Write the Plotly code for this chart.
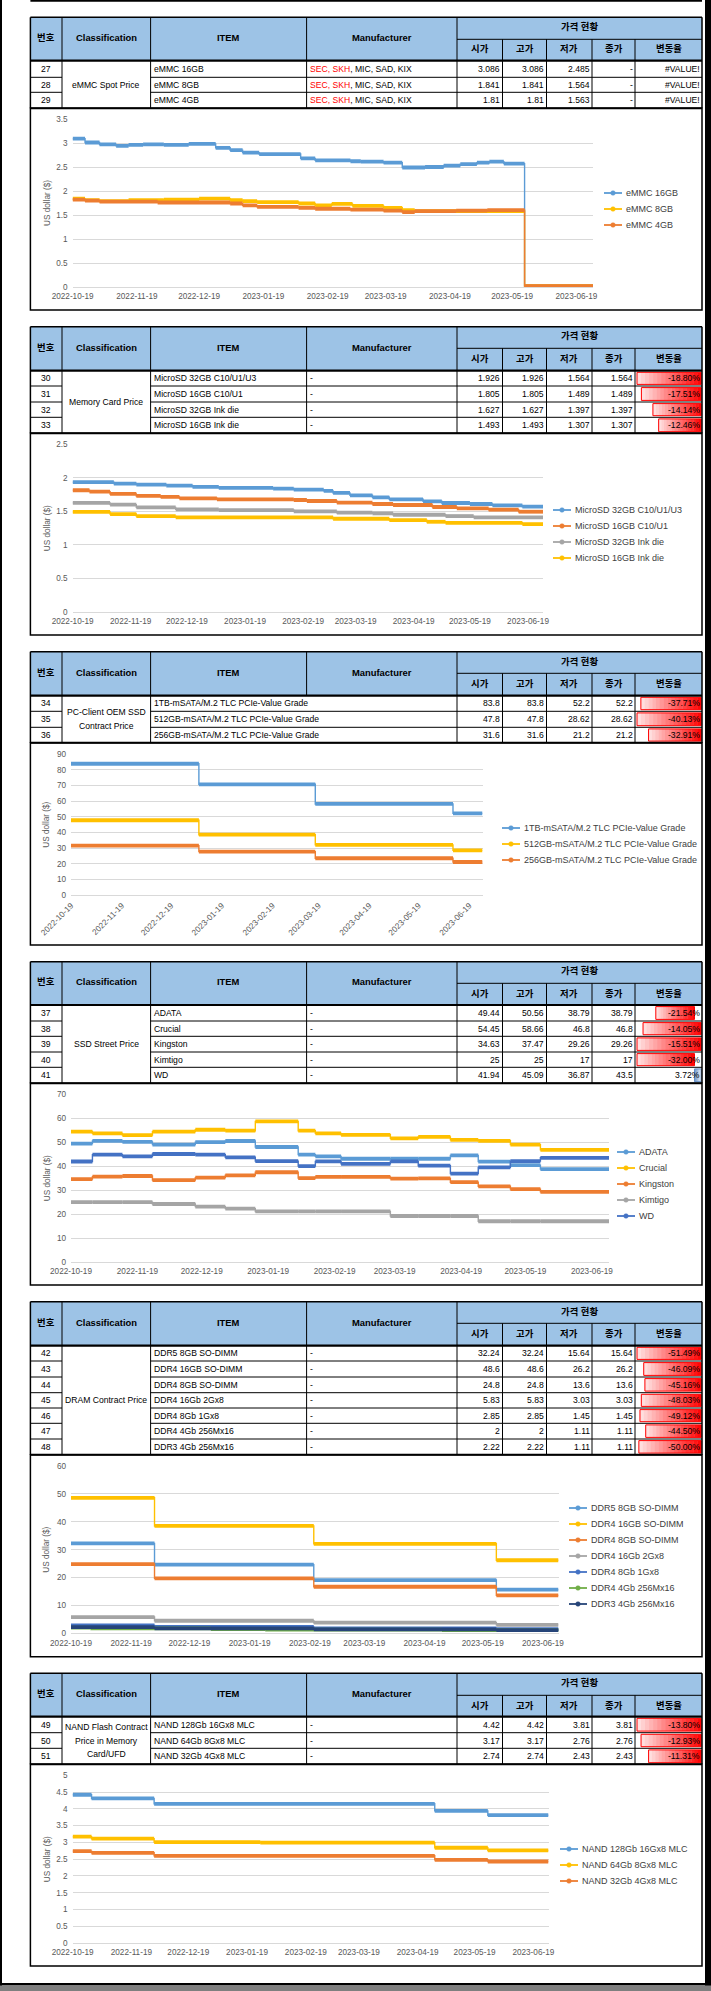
import pandas as pd
import plotly.graph_objects as go

W, H = 711, 1991
START = pd.Timestamp("2022-10-19")
END = pd.Timestamp("2023-06-27")
END_DAY = (END - START).days
FONT = "Liberation Sans, Arial, Noto Sans CJK KR, sans-serif"

BLUE, ORANGE, GRAY, YELLOW = "#5B9BD5", "#ED7D31", "#A5A5A5", "#FFC000"
DBLUE, GREEN, NAVY = "#4472C4", "#70AD47", "#264478"

tick_labels = ["2022-10-19", "2022-11-19", "2022-12-19", "2023-01-19", "2023-02-19",
               "2023-03-19", "2023-04-19", "2023-05-19", "2023-06-19"]

header_left = ["번호", "Classification", "ITEM", "Manufacturer"]
header_group = "가격 현황"
header_sub = ["시가", "고가", "저가", "종가", "변동율"]

# ---------------- Section 1 : eMMC Spot Price ----------------
s1_no = ["27", "28", "29"]
s1_cls = "eMMC Spot Price"
s1_item = ["eMMC 16GB", "eMMC 8GB", "eMMC 4GB"]
s1_maker = ["<span style='color:#FF0000'>SEC, SKH</span>, MIC, SAD, KIX"] * 3
s1_open = ["3.086", "1.841", "1.81"]
s1_high = ["3.086", "1.841", "1.81"]
s1_low = ["2.485", "1.564", "1.563"]
s1_close = ["-", "-", "-"]
s1_change = ["#VALUE!", "#VALUE!", "#VALUE!"]
s1_change_val = [None, None, None]

emmc16_days = [0, 6, 13, 21, 27, 34, 44, 56, 69, 76, 82, 90, 110, 117, 134, 139, 150, 159, 170, 179, 187, 195, 201, 208, 218]
emmc16_vals = [3.09, 3.01, 2.97, 2.94, 2.96, 2.97, 2.96, 2.98, 2.90, 2.85, 2.80, 2.77, 2.68, 2.64, 2.62, 2.61, 2.59, 2.49, 2.50, 2.53, 2.56, 2.59, 2.61, 2.57, 0.02]
emmc8_days = [0, 6, 13, 27, 44, 61, 76, 82, 89, 109, 117, 125, 135, 150, 159, 165, 218]
emmc8_vals = [1.84, 1.81, 1.79, 1.81, 1.82, 1.84, 1.81, 1.79, 1.77, 1.74, 1.70, 1.73, 1.69, 1.65, 1.60, 1.58, 0.02]
emmc4_days = [0, 6, 13, 41, 76, 82, 89, 109, 117, 134, 150, 159, 165, 185, 200, 218]
emmc4_vals = [1.82, 1.80, 1.78, 1.76, 1.74, 1.70, 1.67, 1.65, 1.63, 1.61, 1.59, 1.56, 1.58, 1.59, 1.60, 0.02]

# ---------------- Section 2 : Memory Card Price ----------------
s2_no = ["30", "31", "32", "33"]
s2_cls = "Memory Card Price"
s2_item = ["MicroSD 32GB C10/U1/U3", "MicroSD 16GB C10/U1", "MicroSD 32GB Ink die", "MicroSD 16GB Ink die"]
s2_maker = ["-"] * 4
s2_open = ["1.926", "1.805", "1.627", "1.493"]
s2_high = ["1.926", "1.805", "1.627", "1.493"]
s2_low = ["1.564", "1.489", "1.397", "1.307"]
s2_close = ["1.564", "1.489", "1.397", "1.307"]
s2_change = ["-18.80%", "-17.51%", "-14.14%", "-12.46%"]
s2_change_val = [-18.80, -17.51, -14.14, -12.46]

sd32c_days = [0, 22, 34, 50, 64, 78, 107, 118, 134, 139, 148, 160, 169, 187, 197, 212, 224, 240]
sd32c_vals = [1.935, 1.915, 1.90, 1.885, 1.865, 1.85, 1.84, 1.825, 1.805, 1.775, 1.74, 1.71, 1.68, 1.65, 1.625, 1.61, 1.59, 1.57]
sd16c_days = [0, 9, 20, 34, 47, 57, 77, 118, 125, 141, 160, 171, 192, 205, 222, 238]
sd16c_vals = [1.815, 1.795, 1.76, 1.73, 1.715, 1.695, 1.68, 1.67, 1.655, 1.63, 1.61, 1.595, 1.565, 1.545, 1.525, 1.495]
sd32i_days = [0, 20, 34, 55, 78, 118, 141, 160, 171, 199, 214]
sd32i_vals = [1.627, 1.60, 1.56, 1.53, 1.52, 1.50, 1.48, 1.47, 1.45, 1.43, 1.41]
sd16i_days = [0, 20, 34, 55, 139, 169, 189, 199, 240]
sd16i_vals = [1.493, 1.46, 1.43, 1.41, 1.39, 1.37, 1.345, 1.33, 1.31]

# ---------------- Section 3 : PC-Client OEM SSD ----------------
s3_no = ["34", "35", "36"]
s3_cls = "PC-Client OEM SSD<br>Contract Price"
s3_item = ["1TB-mSATA/M.2 TLC PCIe-Value Grade", "512GB-mSATA/M.2 TLC PCIe-Value Grade", "256GB-mSATA/M.2 TLC PCIe-Value Grade"]
s3_maker = ["", "", ""]
s3_open = ["83.8", "47.8", "31.6"]
s3_high = ["83.8", "47.8", "31.6"]
s3_low = ["52.2", "28.62", "21.2"]
s3_close = ["52.2", "28.62", "21.2"]
s3_change = ["-37.71%", "-40.13%", "-32.91%"]
s3_change_val = [-37.71, -40.13, -32.91]

ssd_days = [0, 78, 149, 233]
ssd1t_vals = [83.8, 70.7, 58.2, 52.2]
ssd512_vals = [47.8, 38.6, 32.1, 28.62]
ssd256_vals = [31.6, 27.8, 23.6, 21.2]

# ---------------- Section 4 : SSD Street Price ----------------
s4_no = ["37", "38", "39", "40", "41"]
s4_cls = "SSD Street Price"
s4_item = ["ADATA", "Crucial", "Kingston", "Kimtigo", "WD"]
s4_maker = ["-"] * 5
s4_open = ["49.44", "54.45", "34.63", "25", "41.94"]
s4_high = ["50.56", "58.66", "37.47", "25", "45.09"]
s4_low = ["38.79", "46.8", "29.26", "17", "36.87"]
s4_close = ["38.79", "46.8", "29.26", "17", "43.5"]
s4_change = ["-21.54%", "-14.05%", "-15.51%", "-32.00%", "3.72%"]
s4_change_val = [-21.54, -14.05, -15.51, -32.00, 3.72]
s4_bar_group = [0, 1, 1, 0, 0]

street_days = [0, 10, 24, 38, 58, 72, 86, 106, 114, 126, 149, 162, 177, 190, 205, 219]
adata_vals = [49.44, 50.56, 50.1, 49.0, 50.0, 50.5, 48.0, 44.8, 44.1, 43.1, 43.1, 43.1, 44.5, 41.9, 40.4, 38.79]
crucial_vals = [54.45, 53.7, 53.0, 54.4, 55.2, 54.8, 58.66, 54.8, 53.7, 53.1, 51.6, 52.2, 51.0, 50.6, 49.0, 46.8]
kingston_vals = [34.63, 35.6, 35.9, 34.2, 35.2, 36.2, 37.47, 35.0, 35.5, 35.5, 34.8, 34.9, 33.3, 31.6, 30.4, 29.26]
kimtigo_vals = [25, 25, 25, 24.2, 23.1, 22.3, 21.1, 21.1, 21.1, 21.1, 19.2, 19.2, 19.2, 17, 17, 17]
wd_vals = [41.94, 44.8, 44.1, 45.09, 44.8, 43.7, 42.1, 40.0, 42.0, 41.0, 42.0, 40.2, 36.87, 39.5, 42.1, 43.5]

# ---------------- Section 5 : DRAM Contract Price ----------------
s5_no = ["42", "43", "44", "45", "46", "47", "48"]
s5_cls = "DRAM Contract Price"
s5_item = ["DDR5 8GB SO-DIMM", "DDR4 16GB SO-DIMM", "DDR4 8GB SO-DIMM", "DDR4 16Gb 2Gx8",
           "DDR4 8Gb 1Gx8", "DDR4 4Gb 256Mx16", "DDR3 4Gb 256Mx16"]
s5_maker = ["-"] * 7
s5_open = ["32.24", "48.6", "24.8", "5.83", "2.85", "2", "2.22"]
s5_high = ["32.24", "48.6", "24.8", "5.83", "2.85", "2", "2.22"]
s5_low = ["15.64", "26.2", "13.6", "3.03", "1.45", "1.11", "1.11"]
s5_close = ["15.64", "26.2", "13.6", "3.03", "1.45", "1.11", "1.11"]
s5_change = ["-51.49%", "-46.09%", "-45.16%", "-48.03%", "-49.12%", "-44.50%", "-50.00%"]
s5_change_val = [-51.49, -46.09, -45.16, -48.03, -49.12, -44.50, -50.00]

dram_days = [0, 43, 125, 219]
ddr5_8_vals = [32.24, 24.6, 19.1, 15.64]
ddr4_16_vals = [48.6, 38.5, 32.1, 26.2]
ddr4_8_vals = [24.8, 19.7, 16.7, 13.6]
ddr4_2gx8_vals = [5.83, 4.5, 3.8, 3.03]
ddr4_1gx8_vals = [2.85, 2.3, 1.8, 1.45]
ddr4_256_days = [0, 10, 72, 100, 191]
ddr4_256_vals = [2.0, 1.8, 1.5, 1.35, 1.11]
ddr3_256_vals = [2.22, 1.8, 1.4, 1.11]

# ---------------- Section 6 : NAND Flash ----------------
s6_no = ["49", "50", "51"]
s6_cls = "NAND Flash Contract<br>Price in Memory<br>Card/UFD"
s6_item = ["NAND 128Gb 16Gx8 MLC", "NAND 64Gb 8Gx8 MLC", "NAND 32Gb 4Gx8 MLC"]
s6_maker = ["-"] * 3
s6_open = ["4.42", "3.17", "2.74"]
s6_high = ["4.42", "3.17", "2.74"]
s6_low = ["3.81", "2.76", "2.43"]
s6_close = ["3.81", "2.76", "2.43"]
s6_change = ["-13.80%", "-12.93%", "-11.31%"]
s6_change_val = [-13.80, -12.93, -11.31]

nand128_days = [0, 10, 43, 191, 219]
nand128_vals = [4.42, 4.31, 4.15, 3.94, 3.81]
nand64_days = [0, 10, 43, 99, 191, 219]
nand64_vals = [3.17, 3.11, 3.01, 2.99, 2.84, 2.76]
nand32_days = [0, 10, 43, 191, 219]
nand32_vals = [2.74, 2.69, 2.60, 2.48, 2.43]

# ---------------- assemble ----------------
sections = [
    dict(no=s1_no, cls=s1_cls, item=s1_item, maker=s1_maker, open=s1_open, high=s1_high, low=s1_low,
         close=s1_close, change=s1_change, cval=s1_change_val,
         series=[("eMMC 16GB", emmc16_days, emmc16_vals, BLUE), ("eMMC 8GB", emmc8_days, emmc8_vals, YELLOW),
                 ("eMMC 4GB", emmc4_days, emmc4_vals, ORANGE)], ymax=3.5, dtick=0.5),
    dict(no=s2_no, cls=s2_cls, item=s2_item, maker=s2_maker, open=s2_open, high=s2_high, low=s2_low,
         close=s2_close, change=s2_change, cval=s2_change_val,
         series=[("MicroSD 32GB C10/U1/U3", sd32c_days, sd32c_vals, BLUE),
                 ("MicroSD 16GB C10/U1", sd16c_days, sd16c_vals, ORANGE),
                 ("MicroSD 32GB Ink die", sd32i_days, sd32i_vals, GRAY),
                 ("MicroSD 16GB Ink die", sd16i_days, sd16i_vals, YELLOW)], ymax=2.5, dtick=0.5),
    dict(no=s3_no, cls=s3_cls, item=s3_item, maker=s3_maker, open=s3_open, high=s3_high, low=s3_low,
         close=s3_close, change=s3_change, cval=s3_change_val, merged_item=True,
         series=[("1TB-mSATA/M.2 TLC PCIe-Value Grade", ssd_days, ssd1t_vals, BLUE),
                 ("512GB-mSATA/M.2 TLC PCIe-Value Grade", ssd_days, ssd512_vals, YELLOW),
                 ("256GB-mSATA/M.2 TLC PCIe-Value Grade", ssd_days, ssd256_vals, ORANGE)], ymax=90, dtick=10),
    dict(no=s4_no, cls=s4_cls, item=s4_item, maker=s4_maker, open=s4_open, high=s4_high, low=s4_low,
         close=s4_close, change=s4_change, cval=s4_change_val, groups=s4_bar_group,
         series=[("ADATA", street_days, adata_vals, BLUE), ("Crucial", street_days, crucial_vals, YELLOW),
                 ("Kingston", street_days, kingston_vals, ORANGE), ("Kimtigo", street_days, kimtigo_vals, GRAY),
                 ("WD", street_days, wd_vals, DBLUE)], ymax=70, dtick=10),
    dict(no=s5_no, cls=s5_cls, item=s5_item, maker=s5_maker, open=s5_open, high=s5_high, low=s5_low,
         close=s5_close, change=s5_change, cval=s5_change_val,
         series=[("DDR5 8GB SO-DIMM", dram_days, ddr5_8_vals, BLUE),
                 ("DDR4 16GB SO-DIMM", dram_days, ddr4_16_vals, YELLOW),
                 ("DDR4 8GB SO-DIMM", dram_days, ddr4_8_vals, ORANGE),
                 ("DDR4 16Gb 2Gx8", dram_days, ddr4_2gx8_vals, GRAY),
                 ("DDR4 8Gb 1Gx8", dram_days, ddr4_1gx8_vals, DBLUE),
                 ("DDR4 4Gb 256Mx16", ddr4_256_days, ddr4_256_vals, GREEN),
                 ("DDR3 4Gb 256Mx16", dram_days, ddr3_256_vals, NAVY)], ymax=60, dtick=10),
    dict(no=s6_no, cls=s6_cls, item=s6_item, maker=s6_maker, open=s6_open, high=s6_high, low=s6_low,
         close=s6_close, change=s6_change, cval=s6_change_val,
         series=[("NAND 128Gb 16Gx8 MLC", nand128_days, nand128_vals, BLUE),
                 ("NAND 64Gb 8Gx8 MLC", nand64_days, nand64_vals, YELLOW),
                 ("NAND 32Gb 4Gx8 MLC", nand32_days, nand32_vals, ORANGE)], ymax=5, dtick=0.5),
]

# layout geometry (pixels)
COLS = [30.4, 62, 150.6, 306.6, 457, 502.5, 546.5, 592, 635, 702]
GEOM = [
    dict(top=17.3, mid=39.3, hbot=60.7, rows=[77.3, 92.3, 108.3], cbot=310, plot=(72.6, 593, 119, 287), leg=(604, 209)),
    dict(top=326.7, mid=348.3, hbot=370.7, rows=[386, 402, 417.3, 433.3], cbot=635, plot=(72.6, 543, 444.3, 612), leg=(553, 534)),
    dict(top=651.7, mid=673.3, hbot=695.7, rows=[711.3, 727.3, 742.7], cbot=945, plot=(71, 482.5, 754, 895.3), leg=(502, 844), angle=-45),
    dict(top=961.7, mid=983.3, hbot=1005, rows=[1021, 1036.3, 1052, 1067.3, 1083.3], cbot=1285, plot=(71, 609, 1094.3, 1262), leg=(617, 1184)),
    dict(top=1301.7, mid=1323.3, hbot=1345.7, rows=[1361, 1377, 1392.7, 1408, 1423.3, 1439, 1454.7], cbot=1656.7, plot=(71, 558.5, 1466, 1633.3), leg=(569, 1556)),
    dict(top=1673.3, mid=1695.3, hbot=1716.7, rows=[1732.7, 1748.3, 1764.3], cbot=1966, plot=(72.6, 548.5, 1775.3, 1943), leg=(560, 1865)),
]

shapes, annotations = [], []


def X(v):
    return v / W


def Y(v):
    return 1 - v / H


def line(x0, y0, x1, y1, color="black", width=1.0):
    shapes.append(dict(type="line", xref="paper", yref="paper", x0=X(x0), y0=Y(y0), x1=X(x1), y1=Y(y1),
                       line=dict(color=color, width=width), layer="above"))


def rect(x0, y0, x1, y1, fill="rgba(0,0,0,0)", color="rgba(0,0,0,0)", width=0):
    shapes.append(dict(type="rect", xref="paper", yref="paper", x0=X(x0), y0=Y(y0), x1=X(x1), y1=Y(y1),
                       fillcolor=fill, line=dict(color=color, width=width), layer="above"))


def circle(cx, cy, r, color):
    shapes.append(dict(type="circle", xref="paper", yref="paper", x0=X(cx - r), y0=Y(cy + r), x1=X(cx + r),
                       y1=Y(cy - r), fillcolor=color, line=dict(color=color, width=0.5), layer="above"))


def text(x, y, s, anchor="center", size=8.6, bold=False, color="black", angle=0):
    if bold:
        s = f"<b>{s}</b>"
    annotations.append(dict(xref="paper", yref="paper", x=X(x), y=Y(y), text=s, showarrow=False,
                            xanchor=anchor, yanchor="middle", textangle=angle, borderpad=0,
                            font=dict(family=FONT, size=size, color=color)))


def gradient_bar(xa, xb, y0, y1, rgb, full_right, border):
    n = 16
    for s in range(n):
        a = xa + (xb - xa) * s / n
        b = xa + (xb - xa) * (s + 1) / n
        t = (s + 0.5) / n
        f = t if full_right else 1 - t
        f = 0.1 + 0.9 * f
        col = "rgb(%d,%d,%d)" % tuple(round(255 + (c - 255) * f) for c in rgb)
        rect(a, y0, min(b + 0.4, xb), y1, fill=col)
    rect(xa, y0, xb, y1, color=border, width=1)


def draw_bars(sec, g):
    vals = sec["cval"]
    groups = sec.get("groups", [0] * len(vals))
    tops = [g["hbot"]] + g["rows"][:-1]
    left, right = COLS[8] + 2, COLS[9] - 0.8
    for grp in sorted(set(groups)):
        idx = [k for k in range(len(vals)) if groups[k] == grp and vals[k] is not None]
        if not idx:
            continue
        neg = max([-vals[k] for k in idx if vals[k] < 0], default=0)
        pos = max([vals[k] for k in idx if vals[k] > 0], default=0)
        axis = left + (right - left) * neg / (neg + pos)
        for k in idx:
            v = vals[k]
            y0, y1 = tops[k] + 1.6, g["rows"][k] - 1.6
            if v < 0:
                gradient_bar(axis - (axis - left) * (-v) / neg, axis, y0, y1, (255, 0, 0), True, "#FF0000")
            else:
                gradient_bar(axis, axis + (right - axis) * v / pos, y0, y1, (99, 142, 198), False, "#638EC6")


def draw_table(sec, g):
    c = COLS
    top, mid, hb, rows = g["top"], g["mid"], g["hbot"], g["rows"]
    bottom = rows[-1]
    rect(c[0], top, c[-1], hb, fill="#9DC3E6")
    draw_bars(sec, g)
    for i, h in enumerate(header_left):
        text((c[i] + c[i + 1]) / 2, (top + hb) / 2 - 1.5, h, size=9.4, bold=True)
    text((c[4] + c[-1]) / 2, (top + mid) / 2 - 1.5, header_group, size=9.4, bold=True)
    for i, h in enumerate(header_sub):
        text((c[4 + i] + c[5 + i]) / 2, (mid + hb) / 2 - 1, h, size=9.4, bold=True)
    line(c[4], mid, c[-1], mid, width=1)
    for k, x in enumerate(c[1:5], start=1):
        if k == 3 and sec.get("merged_item"):
            line(x, top, x, hb, width=1)
        else:
            line(x, top, x, bottom, width=1)
    for x in c[5:9]:
        line(x, mid, x, bottom, width=1)
    for r in rows[:-1]:
        line(c[0], r, c[1], r, width=1)
        line(c[2], r, c[-1], r, width=1)
    line(c[0], top, c[-1], top, width=1.6)
    line(c[0], hb, c[-1], hb, width=2.2)
    line(c[0], top, c[0], bottom, width=1.5)
    line(c[-1], top, c[-1], bottom, width=1.5)
    line(c[0], bottom, c[-1], bottom, width=2)
    prev = hb
    for k, r in enumerate(rows):
        yc = (prev + r) / 2
        text((c[0] + c[1]) / 2, yc, sec["no"][k])
        text(c[2] + 2.5, yc, sec["item"][k], anchor="left")
        if sec["maker"][k]:
            text(c[3] + 2.5, yc, sec["maker"][k], anchor="left")
        for j, key in enumerate(["open", "high", "low", "close", "change"]):
            text(c[5 + j] - 1.5, yc, sec[key][k], anchor="right")
        prev = r
    parts = sec["cls"].split("<br>")
    yc = (hb + bottom) / 2
    for m, s in enumerate(parts):
        text((c[1] + c[2]) / 2, yc + (m - (len(parts) - 1) / 2) * 13.5, s)


fig = go.Figure()
layout_axes = {}
tickvals = pd.to_datetime(tick_labels)

for i, (sec, g) in enumerate(zip(sections, GEOM), start=1):
    sfx = "" if i == 1 else str(i)
    xa, ya = "x" + sfx, "y" + sfx
    x0, x1, ytop, ybot = g["plot"]
    for name, days, vals, color in sec["series"]:
        d = list(days) + [END_DAY]
        v = list(vals) + [vals[-1]]
        dates = [START + pd.Timedelta(days=k) for k in d]
        fig.add_trace(go.Scatter(x=dates, y=v, mode="lines", line=dict(color=color, width=1.4, shape="hv"),
                                 xaxis=xa, yaxis=ya, showlegend=False, hoverinfo="skip"))
        hx, hy = [], []
        for j in range(len(d) - 1):
            hx += [dates[j], dates[j + 1], None]
            hy += [v[j], v[j], None]
        fig.add_trace(go.Scatter(x=hx, y=hy, mode="lines", line=dict(color=color, width=3.8),
                                 xaxis=xa, yaxis=ya, showlegend=False, name=name, hoverinfo="skip"))
    layout_axes["xaxis" + sfx] = dict(
        domain=[X(x0), X(x1)], anchor=ya, type="date", range=[START, END], automargin=False,
        tickvals=tickvals, ticktext=tick_labels, tickangle=g.get("angle", 0),
        showgrid=False, zeroline=False, showline=False, ticks="", ticklabelstandoff=3,
        tickfont=dict(family=FONT, size=8.2, color="#595959"), fixedrange=True)
    layout_axes["yaxis" + sfx] = dict(
        domain=[Y(ybot), Y(ytop)], anchor=xa, range=[0, sec["ymax"]], dtick=sec["dtick"], tick0=0,
        automargin=False,
        showgrid=True, gridcolor="#D9D9D9", gridwidth=1, zeroline=True, zerolinecolor="#D9D9D9",
        zerolinewidth=1, showline=False, ticks="", ticklabelstandoff=4,
        tickfont=dict(family=FONT, size=8.2, color="#595959"), fixedrange=True)
    text(47, (ytop + ybot) / 2, "US dollar ($)", size=8.2, color="#595959", angle=-90)
    rect(COLS[0], g["rows"][-1], COLS[-1], g["cbot"], color="black", width=1.5)
    lx, lcy = g["leg"]
    n = len(sec["series"])
    for k, (name, days, vals, color) in enumerate(sec["series"]):
        ly = lcy + (k - (n - 1) / 2) * 16
        line(lx, ly, lx + 18, ly, color=color, width=1.8)
        circle(lx + 9, ly, 2.3, color)
        text(lx + 21, ly, name, anchor="left", size=9, color="#404040")
    draw_table(sec, g)

# page frame
rect(0, 0, 2, H, fill="black")
rect(705, 0, W, H, fill="black")
line(COLS[0], 0.8, COLS[-1], 0.8, width=1.8)
rect(0, 1983, W, 1985.5, fill="black")
rect(0, 1985.5, W, H, fill="#7F7F7F")

fig.update_layout(width=W, height=H, autosize=False, margin=dict(l=0, r=0, t=0, b=0, pad=0, autoexpand=False),
                  paper_bgcolor="white", plot_bgcolor="white", showlegend=False,
                  shapes=shapes, annotations=annotations, **layout_axes)
fig.write_html("out.html", config={"displayModeBar": False, "staticPlot": True},
               post_script="document.body.style.margin='0px';"
                           "document.body.style.overflow='hidden';"
                           "document.documentElement.style.overflow='hidden';")
